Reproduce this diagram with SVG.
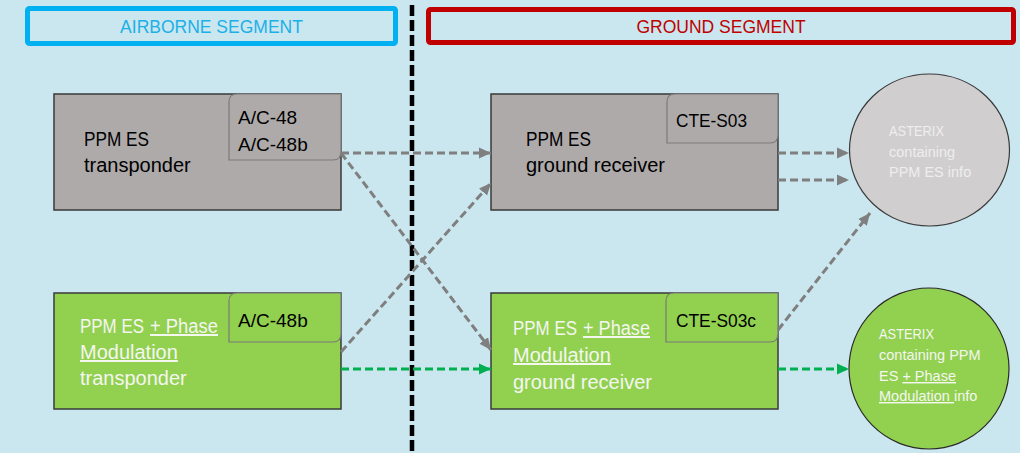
<svg xmlns="http://www.w3.org/2000/svg" width="1020" height="453" viewBox="0 0 1020 453">
<defs>
<style>
text{font-family:"Liberation Sans",Arial,sans-serif;}
.box{stroke:#3a3a3a;stroke-width:1.5;}
.gray{fill:#aeaaaa;}
.green{fill:#92d050;}
.tag{stroke:#7a7a7a;stroke-width:1.2;}
.main{font-size:20px;fill:#000;}
.mainw{font-size:20px;fill:#f4f6f0;}
.tagt{font-size:19px;fill:#000;}
.circ{font-size:14.5px;}
.gline{fill:none;stroke:#7f7f7f;stroke-width:3;stroke-dasharray:8 4;marker-end:url(#ag);}
.grline{fill:none;stroke:#00b050;stroke-width:3;stroke-dasharray:8 4;marker-end:url(#agr);}
</style>
<marker id="ag" markerUnits="userSpaceOnUse" markerWidth="12" markerHeight="12" refX="10" refY="5" orient="auto" viewBox="0 0 10 10">
<path d="M0,0.5 L10,5 L0,9.5 Z" fill="#7f7f7f"/>
</marker>
<marker id="agr" markerUnits="userSpaceOnUse" markerWidth="12" markerHeight="12" refX="10" refY="5" orient="auto" viewBox="0 0 10 10">
<path d="M0,0.5 L10,5 L0,9.5 Z" fill="#00b050"/>
</marker>
</defs>
<rect x="0" y="0" width="1020" height="453" fill="#cae6ef"/>

<g id="airborne-header">
<rect x="27.5" y="8.5" width="368" height="35" rx="2" fill="none" stroke="#00b0f0" stroke-width="5"/>
<text x="211.5" y="33" font-size="17.5" fill="#1cb0e8" text-anchor="middle">AIRBORNE SEGMENT</text>
</g>
<g id="ground-header">
<rect x="428.5" y="9.5" width="585" height="33" rx="2" fill="none" stroke="#c00000" stroke-width="5"/>
<text x="721" y="33" font-size="17.5" fill="#c00000" text-anchor="middle">GROUND SEGMENT</text>
</g>

<g id="divider">
<line x1="412" y1="5" x2="412" y2="453" stroke="#000" stroke-width="4.5" stroke-dasharray="11 4"/>
</g>

<g id="ppm-transponder">
<rect class="box gray" x="54" y="94" width="287" height="116"/>
<path class="tag gray" d="M229,102 Q229,94 237,94 H341 V152 Q341,160 333,160 H229 Z"/>
<text class="tagt" x="238" y="124">A/C-48</text>
<text class="tagt" x="238" y="151">A/C-48b</text>
<text class="main" x="84" y="146" textLength="65" lengthAdjust="spacingAndGlyphs">PPM ES</text>
<text class="main" x="84" y="172">transponder</text>
</g>

<g id="ppm-ground-receiver">
<rect class="box gray" x="491" y="94" width="287" height="116"/>
<path class="tag gray" d="M667,102 Q667,94 675,94 H778 V135 Q778,143 770,143 H667 Z"/>
<text class="tagt" x="676" y="127" textLength="71" lengthAdjust="spacingAndGlyphs">CTE-S03</text>
<text class="main" x="526" y="146" textLength="65" lengthAdjust="spacingAndGlyphs">PPM ES</text>
<text class="main" x="526" y="172">ground receiver</text>
</g>

<g id="pm-transponder">
<rect class="box green" x="54" y="293" width="287" height="116"/>
<path class="tag green" d="M229,301 Q229,293 237,293 H341 V334 Q341,342 333,342 H229 Z"/>
<text class="tagt" x="238" y="327">A/C-48b</text>
<text class="mainw" x="80" y="333" textLength="64" lengthAdjust="spacingAndGlyphs">PPM ES</text>
<text class="mainw" x="150" y="333" textLength="68" lengthAdjust="spacingAndGlyphs" text-decoration="underline">+ Phase</text>
<text class="mainw" x="80" y="359" text-decoration="underline">Modulation</text>
<text class="mainw" x="80" y="385">transponder</text>
</g>

<g id="pm-ground-receiver">
<rect class="box green" x="491" y="293" width="287" height="116"/>
<path class="tag green" d="M666,301 Q666,293 674,293 H778 V334 Q778,342 770,342 H666 Z"/>
<text class="tagt" x="676" y="327" textLength="80" lengthAdjust="spacingAndGlyphs">CTE-S03c</text>
<text class="mainw" x="513" y="335" textLength="64" lengthAdjust="spacingAndGlyphs">PPM ES</text>
<text class="mainw" x="583" y="335" textLength="67" lengthAdjust="spacingAndGlyphs" text-decoration="underline">+ Phase</text>
<text class="mainw" x="513" y="362" text-decoration="underline">Modulation</text>
<text class="mainw" x="513" y="389">ground receiver</text>
</g>

<g id="asterix-ppm">
<ellipse cx="929.5" cy="150" rx="80" ry="76" fill="#d0cece" stroke="#3a3a3a" stroke-width="1.2"/>
<text class="circ" fill="#eeeeee" x="889" y="136" textLength="55" lengthAdjust="spacingAndGlyphs">ASTERIX</text>
<text class="circ" fill="#eeeeee" x="889" y="157">containing</text>
<text class="circ" fill="#eeeeee" x="889" y="177">PPM ES info</text>
</g>

<g id="asterix-pm">
<ellipse cx="929" cy="368.5" rx="80" ry="80.5" fill="#92d050" stroke="#2a2a2a" stroke-width="1.2"/>
<text class="circ" fill="#f4f6f0" x="879" y="339" textLength="55" lengthAdjust="spacingAndGlyphs">ASTERIX</text>
<text class="circ" fill="#f4f6f0" x="879" y="360">containing PPM</text>
<text class="circ" fill="#f4f6f0" x="879" y="381">ES <tspan text-decoration="underline">+ Phase</tspan></text>
<text class="circ" fill="#f4f6f0" x="879" y="401"><tspan text-decoration="underline">Modulation </tspan>info</text>
</g>

<g id="connectors">
<line class="gline" x1="341" y1="153" x2="491" y2="153"/>
<line class="gline" x1="341" y1="153" x2="491" y2="350"/>
<line class="gline" x1="341" y1="352" x2="491" y2="183"/>
<line class="gline" x1="778" y1="153" x2="849" y2="153"/>
<line class="gline" x1="778" y1="180" x2="849" y2="180"/>
<line class="gline" x1="778" y1="330" x2="870" y2="213"/>
<line class="grline" x1="341" y1="369" x2="491" y2="369"/>
<line class="grline" x1="778" y1="369" x2="849" y2="369"/>
</g>
</svg>
